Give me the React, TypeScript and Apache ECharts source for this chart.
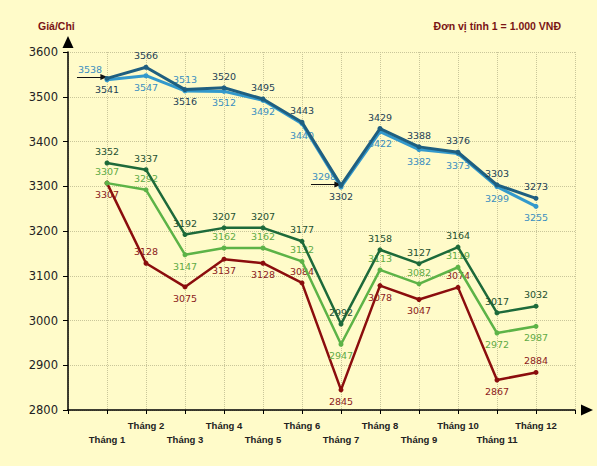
import React, { useEffect, useRef } from 'react';
import * as echarts from 'echarts';

const months = ['Tháng 1', 'Tháng 2', 'Tháng 3', 'Tháng 4', 'Tháng 5', 'Tháng 6', 'Tháng 7', 'Tháng 8', 'Tháng 9', 'Tháng 10', 'Tháng 11', 'Tháng 12'];
const darkBlue = [3541, 3566, 3516, 3520, 3495, 3443, 3302, 3429, 3388, 3376, 3303, 3273];
const lightBlue = [3538, 3547, 3513, 3512, 3492, 3440, 3298, 3422, 3382, 3373, 3299, 3255];
const darkGreen = [3352, 3337, 3192, 3207, 3207, 3177, 2992, 3158, 3127, 3164, 3017, 3032];
const lightGreen = [3307, 3292, 3147, 3162, 3162, 3132, 2947, 3113, 3082, 3119, 2972, 2987];
const darkRed = [3307, 3128, 3075, 3137, 3128, 3084, 2845, 3078, 3047, 3074, 2867, 2884];

const posDarkBlue = ['bottom', 'top', 'bottom', 'top', 'top', 'top', 'bottom', 'top', 'top', 'top', 'top', 'top'];
const posLightBlue = ['callout', 'bottom', 'top', 'bottom', 'bottom', 'bottom', 'callout', 'bottom', 'bottom', 'bottom', 'bottom', 'bottom'];
const posDarkGreen = ['top', 'top', 'top', 'top', 'top', 'top', 'top', 'top', 'top', 'top', 'top', 'top'];
const posLightGreen = ['top', 'top', 'bottom', 'top', 'top', 'top', 'bottom', 'top', 'top', 'top', 'bottom', 'bottom'];
const posDarkRed = ['bottom', 'top', 'bottom', 'bottom', 'bottom', 'top', 'bottom', 'bottom', 'bottom', 'top', 'bottom', 'top'];

const FONT = 'DejaVu Sans';

function makeSeries(name: string, values: number[], pos: string[], color: string, labelColor: string, width: number, z: number) {
  return {
    name,
    type: 'line',
    z,
    symbol: 'circle',
    symbolSize: 5,
    lineStyle: { color, width },
    itemStyle: { color },
    label: { show: true, color: labelColor, fontFamily: FONT, fontSize: 9.5, distance: 4 },
    data: values.map((v, i) => {
      const p = pos[i];
      const label = p === 'callout' ? { position: 'top', offset: [-17, 1] } : { position: p };
      return { value: [i + 1, v], label };
    }),
  } as any;
}

export default function App() {
  const ref = useRef<HTMLDivElement>(null);
  useEffect(() => {
    document.body.style.margin = '0';
    const chart = echarts.init(ref.current!, null, { renderer: 'svg' });
    const calloutIdx = posLightBlue.map((p, i) => (p === 'callout' ? i : -1)).filter((i) => i >= 0);
    const lb = makeSeries('lightBlue', lightBlue, posLightBlue, '#3399cc', '#3a8ec0', 3, 4);
    lb.markLine = {
      silent: true,
      symbol: ['none', 'triangle'],
      symbolSize: [6, 7],
      label: { show: false },
      lineStyle: { color: '#111', width: 1, type: 'solid' },
      data: calloutIdx.map((i) => [
        { coord: [i + 1 - 0.77, lightBlue[i] + 6] },
        { coord: [i + 1 - 0.08, lightBlue[i] + 6] },
      ]),
    };
    chart.setOption({
      animation: false,
      backgroundColor: '#fffbc9',
      textStyle: { fontFamily: FONT },
      title: [
        {
          text: 'Giá/Chỉ',
          left: 33,
          top: 15,
          textStyle: { color: '#7a1414', fontSize: 10.5, fontWeight: 'bold', fontFamily: 'Liberation Sans' },
        },
        {
          text: 'Đơn vị tính 1 = 1.000 VNĐ',
          right: 31,
          top: 15,
          textStyle: { color: '#7a1414', fontSize: 10.5, fontWeight: 'bold', fontFamily: 'Liberation Sans' },
        },
      ],
      grid: { left: 68, right: 22, top: 52, bottom: 56, containLabel: false },
      xAxis: {
        type: 'value',
        min: 0,
        max: 13,
        interval: 1,
        axisLine: {
          show: true,
          onZero: false,
          lineStyle: { color: '#000', width: 1.5 },
          symbol: ['none', 'triangle'],
          symbolSize: [11, 12],
          symbolOffset: [0, 12],
        },
        axisTick: { show: true, length: 4, lineStyle: { color: '#000' } },
        axisLabel: {
          margin: 8,
          lineHeight: 14,
          color: '#222',
          fontFamily: 'Liberation Sans',
          fontWeight: 'bold',
          fontSize: 9.5,
          formatter: (v: number) => {
            if (v < 1 || v > 12) return '';
            const t = months[v - 1];
            return v % 2 === 1 ? '\n' + t : t;
          },
        },
        splitLine: { show: true, lineStyle: { color: '#c9c69a', type: 'dotted', width: 1 } },
      },
      yAxis: {
        type: 'value',
        min: 2800,
        max: 3600,
        interval: 100,
        axisLine: {
          show: true,
          lineStyle: { color: '#000', width: 1.5 },
          symbol: ['none', 'triangle'],
          symbolSize: [11, 12],
          symbolOffset: [0, 10],
        },
        axisTick: { show: true, length: 5, lineStyle: { color: '#000' } },
        axisLabel: { margin: 10, color: '#222', fontFamily: FONT, fontSize: 11.5, formatter: (v: number) => String(v) },
        splitLine: { show: true, lineStyle: { color: '#c9c69a', type: 'dotted', width: 1 } },
      },
      series: [
        makeSeries('darkRed', darkRed, posDarkRed, '#8b0d0d', '#8b1a1a', 2.5, 1),
        makeSeries('lightGreen', lightGreen, posLightGreen, '#5db347', '#5faa45', 2.5, 2),
        makeSeries('darkGreen', darkGreen, posDarkGreen, '#1d6a3a', '#1d5030', 2.5, 3),
        lb,
        makeSeries('darkBlue', darkBlue, posDarkBlue, '#1f5f80', '#1d3f55', 3, 5),
      ],
    });
    return () => chart.dispose();
  }, []);
  return <div ref={ref} style={{ width: 597, height: 466, background: '#fffbc9' }} />;
}
